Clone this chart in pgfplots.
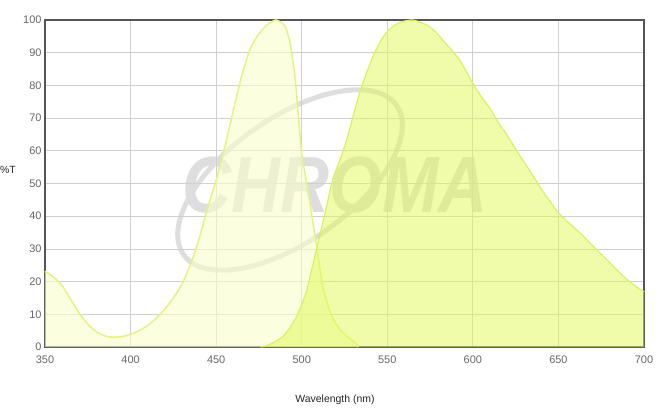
\documentclass[border=0pt]{standalone}
\usepackage{pgfplots}
\pgfplotsset{compat=1.18}
\usepackage{fontspec}
\setmainfont{Liberation Sans}
\definecolor{excfill}{RGB}{249,255,201}
\definecolor{excline}{RGB}{228,243,130}
\definecolor{emfill}{RGB}{225,249,85}
\definecolor{emline}{RGB}{218,242,95}
\definecolor{axisgray}{RGB}{85,85,85}
\definecolor{gridgray}{RGB}{208,208,208}
\definecolor{ticktext}{RGB}{102,102,102}
\definecolor{wm}{RGB}{222,222,222}

\pgfplotstableread{
x y
350 23.2
355 21.4
360 18.8
365 14.6
370 10.4
375 7.0
380 4.7
385 3.4
390 3.0
395 3.2
400 3.9
405 5.0
410 6.6
415 8.8
420 11.6
425 15.0
430 19.2
435 25.2
440 33.0
445 42.5
450 51.0
455 61.0
460 72.3
465 83.0
470 91.3
475 95.8
480 98.6
485 100
490 98.3
493 93.5
496 83
498 71
500 59
503 50
506 40
509 30
511 22.5
513 17
516 11.5
519 8
523 5
527 3
531 1.5
533 0
}\exc

\pgfplotstableread{
x y
476 0
480 0.5
485 1.8
489 3.2
493 5.8
497 9.3
500 13
503 17.4
506 24
509 30.7
513.6 40.9
518 51
522 56.8
526 62.8
530 70.5
534 78
538 84
542 89.3
546 93.5
550 96.5
554 98.3
558 99.4
565 100
573 98.5
578 96.5
583 93.5
588 90.5
592 88
596 84.5
600 80.6
605 76.5
610 73
615 68.5
620 64.8
625 60.5
630 56.5
635 52.5
640 48.3
645 44.6
650 41.0
656 38.0
663 34.7
670 31.0
675 28.4
680 25.8
688 21.6
694 19.0
700 16.9
}\emi

\begin{document}
\begin{tikzpicture}[x=1bp,y=1bp]
\useasboundingbox (-45,-62) rectangle (618,347);
% watermark (behind the chart)
\draw[wm, line width=5bp, rotate around={35:(245,167)}] (245,167) ellipse (130 and 62);
\node[wm, font=\bfseries\itshape\fontsize{80}{80}\selectfont, xscale=0.85] at (290,162) {CHROMA};
\begin{axis}[
  at={(0,0)}, anchor=south west,
  scale only axis, width=599bp, height=327bp,
  xmin=350, xmax=700, ymin=0, ymax=100,
  xtick={350,400,...,700}, ytick={0,10,...,100},
  grid=major, grid style={gridgray, line width=0.8bp},
  axis line style={axisgray, line width=2bp},
  major tick length=0pt,
  tick label style={ticktext, font=\fontsize{11}{13}\selectfont},
  xticklabel style={yshift=-5bp},
  /pgf/number format/assume math mode=true,
  clip=false,
]
\addplot[draw=none, fill=excfill, fill opacity=0.6, smooth, tension=0.4] table {\exc} \closedcycle;
\addplot[excline, line width=1.5bp, smooth, tension=0.4] table {\exc};
\addplot[draw=none, fill=emfill, fill opacity=0.5, smooth, tension=0.4] table {\emi} \closedcycle;
\addplot[emline, line width=1.2bp, smooth, tension=0.4] table {\emi};
\end{axis}
\node[font=\fontsize{10.5}{12}\selectfont, text=black!85] at (-37,177) {\%T};
\node[font=\fontsize{10.5}{12}\selectfont, text=black!85] at (290,-53) {Wavelength (nm)};
\end{tikzpicture}
\end{document}
